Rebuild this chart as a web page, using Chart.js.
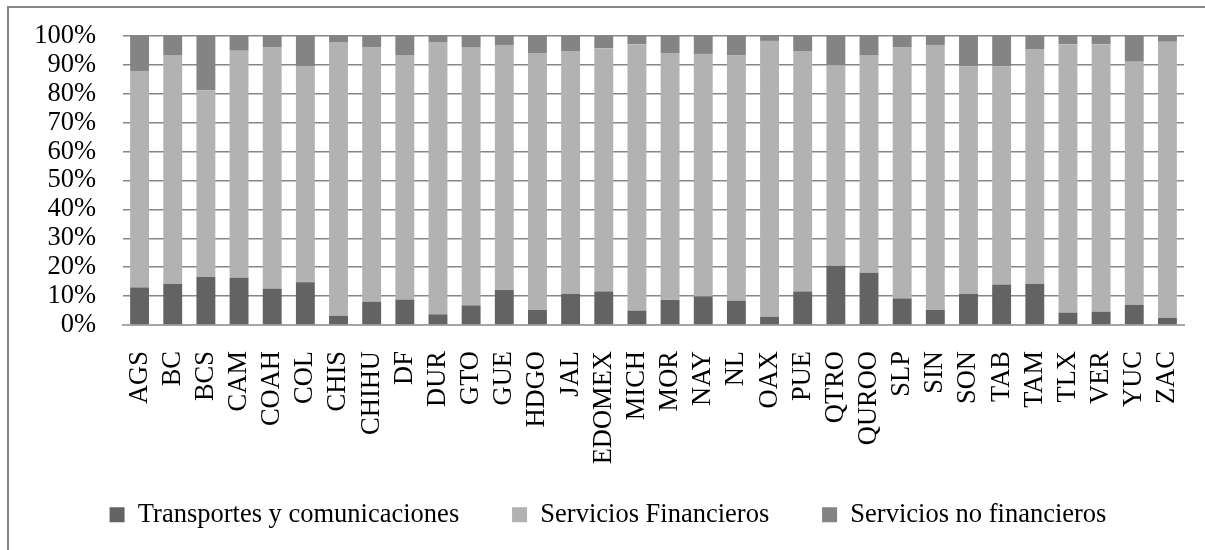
<!DOCTYPE html>
<html>
<head>
<meta charset="utf-8">
<script src="https://cdn.jsdelivr.net/npm/chart.js@4.4.1/dist/chart.umd.min.js"></script>
<style>
  html,body{margin:0;padding:0;background:#fff;overflow:hidden;}
  #frame{position:absolute;left:7px;top:6px;width:1400px;height:800px;border:2px solid #878787;}
  #wrap{position:absolute;left:0;top:0;width:1205px;height:550px;}
  canvas{display:block;}
</style>
</head>
<body>
<div id="frame"></div>
<div id="wrap"><canvas id="chart" width="1205" height="550"></canvas></div>
<script>
const estados = ["AGS","BC","BCS","CAM","COAH","COL","CHIS","CHIHU","DF","DUR","GTO","GUE","HDGO","JAL","EDOMEX","MICH","MOR","NAY","NL","OAX","PUE","QTRO","QUROO","SLP","SIN","SON","TAB","TAM","TLX","VER","YUC","ZAC"];

const transportes = [13.0,14.2,16.6,16.4,12.6,14.8,3.2,8.1,8.8,3.7,6.8,12.1,5.2,10.8,11.6,5.0,8.7,9.9,8.4,2.9,11.6,20.5,18.1,9.2,5.2,10.8,14.0,14.2,4.3,4.6,7.0,2.5];
const financieros = [74.9,79.2,64.6,78.5,83.4,74.6,94.5,87.9,84.6,94.2,89.4,84.8,88.9,84.0,84.1,92.1,85.2,83.9,84.9,95.4,83.2,69.3,75.3,86.8,91.7,78.7,75.5,81.3,92.8,92.5,84.1,95.5];
const noFinancieros = [12.1,6.6,18.8,5.1,4.0,10.6,2.3,4.0,6.6,2.1,3.8,3.1,5.9,5.2,4.3,2.9,6.1,6.2,6.7,1.7,5.2,10.2,6.6,4.0,3.1,10.5,10.5,4.5,2.9,2.9,8.9,2.0];

const yTicks = [0,10,20,30,40,50,60,70,80,90,100];

const serif = "'Liberation Serif','Times New Roman',serif";
const fontSize = 26.5;
const clear = "rgba(0,0,0,0)";

// legend spacing: Chart.js uses one padding for both directions, so a little
// extra room between items comes from trailing spaces in the label text
const legendGap = "\u00a0\u00a0\u00a0";

new Chart(document.getElementById("chart"),{
  type:"bar",
  data:{
    labels:estados,
    datasets:[
      { label:"Transportes y comunicaciones", data:transportes, backgroundColor:"#636363" },
      { label:"Servicios Financieros", data:financieros, backgroundColor:"#b2b2b2" },
      { label:"Servicios no financieros", data:noFinancieros, backgroundColor:"#848484" }
    ]
  },
  options:{
    responsive:false,
    animation:false,
    events:[],
    barPercentage:0.57,
    categoryPercentage:1,
    layout:{ padding:{ top:36, right:21, bottom:12, left:32 } },
    plugins:{
      tooltip:{ enabled:false },
      legend:{
        position:"bottom",
        labels:{
          color:"#000",
          font:{ family:serif, size:fontSize },
          boxWidth:15,
          boxHeight:15,
          padding:33,
          generateLabels:chart=>{
            const items = Chart.defaults.plugins.legend.labels.generateLabels(chart);
            items.forEach((it,i)=>{
              it.lineWidth = 0;
              if(i<items.length-1) it.text += legendGap;
            });
            return items;
          }
        }
      }
    },
    scales:{
      x:{
        stacked:true,
        // invisible tick marks keep the labels off the axis without
        // ticks.padding, which would also widen the scale's side padding
        grid:{ display:true, color:clear, drawTicks:true, tickLength:26, tickColor:clear },
        border:{ display:true, color:"#a6a6a6", width:2 },
        ticks:{
          color:"#000",
          font:{ family:serif, size:fontSize },
          autoSkip:false,
          minRotation:90,
          maxRotation:90,
          padding:0
        },
        afterFit:s=>{ s.height = 143.5; }
      },
      y:{
        stacked:true,
        min:0,
        max:100,
        afterBuildTicks:s=>{ s.ticks = yTicks.map(v=>({ value:v })); },
        grid:{ color:"#868686", lineWidth:1.5, drawTicks:true, tickLength:27, tickColor:clear },
        border:{ display:false },
        ticks:{
          color:"#000",
          font:{ family:serif, size:fontSize },
          autoSkip:false,
          padding:0,
          callback:v=>v+"%"
        },
        afterFit:s=>{ s.width = 91; }
      }
    }
  }
});
</script>
</body>
</html>
